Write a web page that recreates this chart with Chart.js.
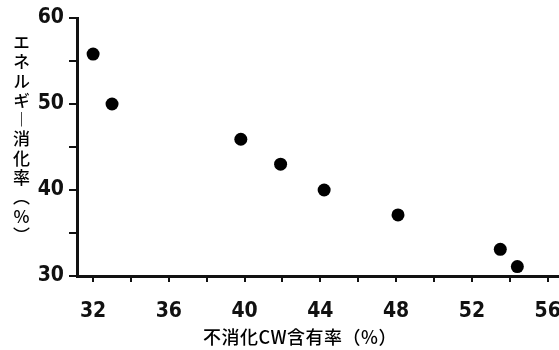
<!DOCTYPE html>
<html>
<head>
<meta charset="utf-8">
<script src="https://cdn.jsdelivr.net/npm/chart.js@4.4.1/dist/chart.umd.min.js"></script>
<style>
  html, body { margin: 0; padding: 0; background: #fff; overflow: hidden; }
  #wrap { position: relative; width: 559px; height: 350px; }
  #chart { display: block; }
  #ylabel {
    position: absolute; left: 9px; top: 34px;
    writing-mode: vertical-rl; text-orientation: upright;
    font: 500 17px "Noto Sans CJK JP"; letter-spacing: 2.3px; color: #000;
  }
</style>
</head>
<body>
<div id="wrap">
  <canvas id="chart" width="559" height="350"></canvas>
  <div id="ylabel">エネルギ︱消化率（%）</div>
</div>
<script>
// undigested CW content (%) vs energy digestibility (%)
const cwContent = [32.0, 33.0, 39.8, 41.9, 44.2, 48.1, 53.5, 54.4]
const energyDigest = [55.8, 50.0, 45.9, 43.0, 40.0, 37.1, 33.1, 31.1]

const xTicks = [32, 34, 36, 38, 40, 42, 44, 46, 48, 50, 52, 54, 56]
const xTickLabels = [32, 36, 40, 44, 48, 52, 56]
const yTicks = [30, 35, 40, 45, 50, 55, 60]
const yTickLabels = [30, 40, 50, 60]

const xTitle = "不消化CW含有率（%）"

const ink = "#111"
const tickFont = { family: '"DejaVu Sans Condensed", "Liberation Sans Narrow", sans-serif', size: 21, weight: "bold" }

// draw the x axis title a bit left of the plot centre, like the original
const xTitlePlugin = {
  id: "xTitle",
  afterDraw(chart) {
    const ctx = chart.ctx
    ctx.save()
    ctx.font = '500 18px "Noto Sans CJK JP"'
    ctx.letterSpacing = "0.5px"
    ctx.fillStyle = "#000"
    ctx.textAlign = "center"
    ctx.textBaseline = "middle"
    ctx.fillText(xTitle, 300, 337)
    ctx.restore()
  },
}

const ctx = document.getElementById("chart").getContext("2d")
new Chart(ctx, {
  type: "scatter",
  data: {
    datasets: [
      {
        data: cwContent.map((x, i) => ({ x: x, y: energyDigest[i] })),
        backgroundColor: "#000",
        borderWidth: 0,
        pointRadius: 6.5,
        clip: false,
      },
    ],
  },
  options: {
    responsive: false,
    animation: false,
    layout: { autoPadding: false, padding: { top: 18, right: 0, left: 0, bottom: 0 } },
    plugins: {
      legend: { display: false },
      tooltip: { enabled: false },
    },
    scales: {
      x: {
        type: "linear",
        min: 31.15,
        max: 56.6,
        afterBuildTicks: (scale) => {
          scale.ticks = xTicks.map((v) => ({ value: v }))
        },
        afterFit: (scale) => {
          scale.height = 74
          scale.paddingRight = 0
          scale.paddingLeft = 0
        },
        ticks: {
          autoSkip: false,
          maxRotation: 0,
          padding: 17,
          color: ink,
          font: tickFont,
          callback: (v) => (xTickLabels.includes(v) ? String(v) : ""),
        },
        grid: {
          drawOnChartArea: false,
          drawTicks: true,
          tickLength: 6,
          lineWidth: 2,
          color: ink,
        },
        border: { display: true, color: ink, width: 3 },
      },
      y: {
        min: 30,
        max: 60,
        afterBuildTicks: (scale) => {
          scale.ticks = yTicks.map((v) => ({ value: v }))
        },
        afterFit: (scale) => {
          scale.width = 77
        },
        ticks: {
          padding: 5,
          color: ink,
          font: tickFont,
          callback: (v) => (yTickLabels.includes(v) ? String(v) : ""),
        },
        grid: {
          drawOnChartArea: false,
          drawTicks: true,
          tickLength: 8,
          lineWidth: 2,
          color: ink,
        },
        border: { display: true, color: ink, width: 3 },
      },
    },
  },
  plugins: [xTitlePlugin],
})
</script>
</body>
</html>
